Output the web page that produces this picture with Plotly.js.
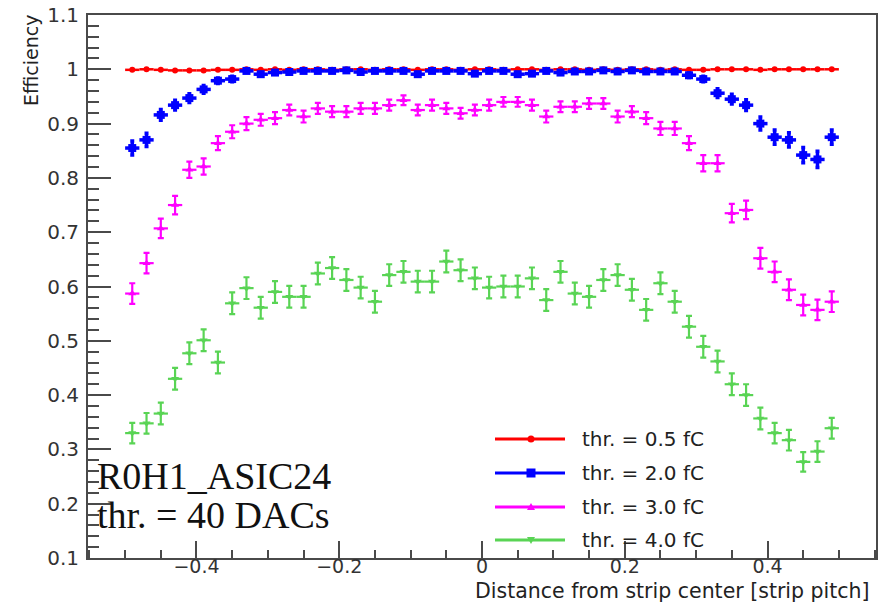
<!DOCTYPE html>
<html>
<head>
<meta charset="utf-8">
<script src="https://cdn.plot.ly/plotly-3.0.1.min.js"></script>
<style>
  html, body { margin: 0; padding: 0; background: #ffffff; }
  #chart { width: 887px; height: 605px; }
</style>
</head>
<body>
<div id="chart"></div>
<script>
// Bin centres of the strip-position histogram (50 bins of 0.02 pitch)
const xCenters = [
  -0.49, -0.47, -0.45, -0.43, -0.41, -0.39, -0.37, -0.35, -0.33, -0.31,
  -0.29, -0.27, -0.25, -0.23, -0.21, -0.19, -0.17, -0.15, -0.13, -0.11,
  -0.09, -0.07, -0.05, -0.03, -0.01,  0.01,  0.03,  0.05,  0.07,  0.09,
   0.11,  0.13,  0.15,  0.17,  0.19,  0.21,  0.23,  0.25,  0.27,  0.29,
   0.31,  0.33,  0.35,  0.37,  0.39,  0.41,  0.43,  0.45,  0.47,  0.49
];
const binHalfWidth = 0.01;

// Efficiency per threshold
const eff05 = [
  0.999, 1.000, 0.999, 0.998, 0.998, 0.998, 0.999, 0.999, 1.000, 0.999,
  1.000, 0.999, 1.000, 1.000, 0.999, 1.000, 1.000, 0.999, 1.000, 1.000,
  0.999, 1.000, 1.000, 0.999, 1.000, 1.000, 0.999, 1.000, 1.000, 0.999,
  1.000, 1.000, 0.999, 1.000, 0.999, 1.000, 1.000, 0.999, 1.000, 0.999,
  0.999, 1.000, 1.000, 1.000, 0.999, 1.000, 1.000, 1.000, 1.000, 1.000
];
const err05 = [
  0.001, 0.001, 0.001, 0.001, 0.001, 0.001, 0.001, 0.001, 0.001, 0.001,
  0.001, 0.001, 0.001, 0.001, 0.001, 0.001, 0.001, 0.001, 0.001, 0.001,
  0.001, 0.001, 0.001, 0.001, 0.001, 0.001, 0.001, 0.001, 0.001, 0.001,
  0.001, 0.001, 0.001, 0.001, 0.001, 0.001, 0.001, 0.001, 0.001, 0.001,
  0.001, 0.001, 0.001, 0.001, 0.001, 0.001, 0.001, 0.001, 0.001, 0.001
];

const eff20 = [
  0.855, 0.870, 0.916, 0.934, 0.947, 0.963, 0.979, 0.982, 0.997, 0.991,
  0.994, 0.995, 0.997, 0.997, 0.997, 0.998, 0.995, 0.997, 0.997, 0.997,
  0.991, 0.997, 0.997, 0.997, 0.992, 0.997, 0.997, 0.991, 0.992, 0.997,
  0.994, 0.996, 0.996, 0.998, 0.996, 0.998, 0.996, 0.996, 0.996, 0.989,
  0.982, 0.956, 0.945, 0.934, 0.900, 0.875, 0.870, 0.842, 0.834, 0.875
];
const err20 = [
  0.013, 0.012, 0.010, 0.009, 0.008, 0.007, 0.005, 0.005, 0.002, 0.003,
  0.003, 0.002, 0.002, 0.002, 0.002, 0.002, 0.002, 0.002, 0.002, 0.002,
  0.003, 0.002, 0.002, 0.002, 0.003, 0.002, 0.002, 0.003, 0.003, 0.002,
  0.003, 0.002, 0.002, 0.002, 0.002, 0.002, 0.002, 0.002, 0.002, 0.004,
  0.005, 0.008, 0.009, 0.010, 0.012, 0.013, 0.013, 0.014, 0.015, 0.013
];

const eff30 = [
  0.587, 0.643, 0.707, 0.750, 0.815, 0.821, 0.864, 0.885, 0.900, 0.907,
  0.910, 0.925, 0.913, 0.928, 0.922, 0.922, 0.928, 0.928, 0.934, 0.943,
  0.925, 0.934, 0.928, 0.919, 0.925, 0.934, 0.940, 0.940, 0.934, 0.913,
  0.931, 0.931, 0.937, 0.937, 0.913, 0.922, 0.910, 0.891, 0.891, 0.864,
  0.827, 0.827, 0.735, 0.741, 0.652, 0.627, 0.594, 0.566, 0.557, 0.572
];
const err30 = [
  0.019, 0.019, 0.018, 0.017, 0.015, 0.015, 0.013, 0.012, 0.012, 0.011,
  0.011, 0.010, 0.011, 0.010, 0.010, 0.010, 0.010, 0.010, 0.010, 0.009,
  0.010, 0.010, 0.010, 0.010, 0.010, 0.010, 0.009, 0.009, 0.010, 0.011,
  0.010, 0.010, 0.010, 0.010, 0.011, 0.010, 0.011, 0.012, 0.012, 0.013,
  0.015, 0.015, 0.017, 0.017, 0.019, 0.019, 0.019, 0.019, 0.019, 0.019
];

const eff40 = [
  0.330, 0.348, 0.366, 0.430, 0.477, 0.501, 0.460, 0.569, 0.597, 0.561,
  0.590, 0.581, 0.581, 0.624, 0.634, 0.612, 0.598, 0.572, 0.621, 0.627,
  0.609, 0.609, 0.646, 0.630, 0.615, 0.598, 0.600, 0.600, 0.615, 0.575,
  0.627, 0.587, 0.581, 0.612, 0.621, 0.594, 0.557, 0.606, 0.572, 0.526,
  0.489, 0.462, 0.420, 0.400, 0.357, 0.330, 0.317, 0.277, 0.296, 0.339
];
const err40 = [
  0.019, 0.019, 0.020, 0.020, 0.020, 0.020, 0.020, 0.020, 0.020, 0.020,
  0.020, 0.020, 0.020, 0.020, 0.020, 0.020, 0.020, 0.020, 0.020, 0.020,
  0.020, 0.020, 0.020, 0.020, 0.020, 0.020, 0.020, 0.020, 0.020, 0.020,
  0.020, 0.020, 0.020, 0.020, 0.020, 0.020, 0.020, 0.020, 0.020, 0.020,
  0.020, 0.020, 0.020, 0.020, 0.020, 0.019, 0.019, 0.018, 0.019, 0.019
];

const seriesNames = ['thr. = 0.5 fC', 'thr. = 2.0 fC', 'thr. = 3.0 fC', 'thr. = 4.0 fC'];
const yTickVals = [0.1, 0.2, 0.3, 0.4, 0.5, 0.6, 0.7, 0.8, 0.9, 1, 1.1];
const xTickVals = [-0.4, -0.2, 0, 0.2, 0.4];
const boardLabel = 'R0H1_ASIC24';
const dacLabel = 'thr. = 40 DACs';
const xTitle = 'Distance from strip center [strip pitch]';
const yTitle = 'Efficiency';

const styles = [
  { color: '#ff0000', symbol: 'circle',        size: 6, thick: 2.5, cap: 0 },
  { color: '#0000ff', symbol: 'square',        size: 8, thick: 3.5, cap: 2 },
  { color: '#ff00ff', symbol: 'triangle-up',   size: 7, thick: 2.2, cap: 3 },
  { color: '#59d454', symbol: 'triangle-down', size: 7, thick: 2.2, cap: 3 }
];
const effs = [eff05, eff20, eff30, eff40];
const errs = [err05, err20, err30, err40];

const traces = effs.map((eff, k) => ({
  type: 'scatter',
  mode: 'markers',
  name: seriesNames[k],
  x: xCenters,
  y: eff,
  marker: { color: styles[k].color, symbol: styles[k].symbol, size: styles[k].size, line: { width: 0 } },
  error_x: { type: 'constant', value: binHalfWidth, color: styles[k].color, thickness: styles[k].thick, width: 0 },
  error_y: { type: 'data', array: errs[k], color: styles[k].color, thickness: styles[k].thick, width: styles[k].cap },
  showlegend: false,
  hoverinfo: 'x+y'
}));

// Plot-area geometry helpers (paper fractions)
const L = 88, R = 876, T = 15, B = 558;
const px = v => (v - L) / (R - L);
const py = v => (B - v) / (B - T);

// Hand-drawn legend box in the lower right corner
const legendRows = [439, 473, 507, 540];
const legendLineX = [495, 565];
const legendMarkX = 531;
const legendTextX = 580;

const shapes = [];
const annotations = [];
legendRows.forEach((row, k) => {
  const st = styles[k];
  shapes.push({
    type: 'line', xref: 'paper', yref: 'paper',
    x0: px(legendLineX[0]), x1: px(legendLineX[1]), y0: py(row), y1: py(row),
    line: { color: st.color, width: 3 }
  });
  const half = k === 1 ? 4.5 : 3.5;
  const base = { xref: 'paper', yref: 'paper', xsizemode: 'pixel', ysizemode: 'pixel',
                 xanchor: px(legendMarkX), yanchor: py(row),
                 fillcolor: st.color, line: { width: 0 } };
  if (k === 0) shapes.push(Object.assign({ type: 'circle', x0: -half, x1: half, y0: -half, y1: half }, base));
  else if (k === 1) shapes.push(Object.assign({ type: 'rect', x0: -half, x1: half, y0: -half, y1: half }, base));
  else if (k === 2) shapes.push(Object.assign({ type: 'path', path: 'M-4,-3L4,-3L0,4Z' }, base));
  else shapes.push(Object.assign({ type: 'path', path: 'M-4,3L4,3L0,-4Z' }, base));
  annotations.push({
    xref: 'paper', yref: 'paper', x: px(legendTextX), y: py(row),
    xanchor: 'left', yanchor: 'middle', showarrow: false, text: seriesNames[k],
    font: { family: 'DejaVu Sans, sans-serif', size: 20, color: '#222222' }
  });
});

// Run label
annotations.push({
  xref: 'paper', yref: 'paper', x: px(95), y: py(476), xanchor: 'left', yanchor: 'middle',
  showarrow: false, text: boardLabel,
  font: { family: 'Liberation Serif, Times New Roman, serif', size: 38, color: '#111111' }
});
annotations.push({
  xref: 'paper', yref: 'paper', x: px(95), y: py(515), xanchor: 'left', yanchor: 'middle',
  showarrow: false, text: dacLabel,
  font: { family: 'Liberation Serif, Times New Roman, serif', size: 38, color: '#111111' }
});

// Axis titles (right / top aligned)
annotations.push({
  xref: 'paper', yref: 'paper', x: px(871), y: py(591), xanchor: 'right', yanchor: 'middle',
  showarrow: false, text: xTitle, borderpad: 0,
  font: { family: 'DejaVu Sans, sans-serif', size: 20.5, color: '#222222' }
});
annotations.push({
  xref: 'paper', yref: 'paper', x: px(31), y: py(60), xanchor: 'center', yanchor: 'middle',
  showarrow: false, text: yTitle, textangle: -90,
  font: { family: 'DejaVu Sans, sans-serif', size: 19, color: '#222222' }
});

const axisColor = '#4a4a4a';
const layout = {
  width: 887, height: 605,
  margin: { l: L, r: 887 - R, t: T, b: 605 - B, pad: 0 },
  paper_bgcolor: '#ffffff', plot_bgcolor: '#ffffff',
  showlegend: false,
  xaxis: {
    range: [-0.552, 0.552],
    tickmode: 'array', tickvals: xTickVals,
    ticks: 'inside', ticklen: 17, tickwidth: 2, tickcolor: axisColor,
    minor: { dtick: 0.05, tick0: 0, ticks: 'inside', ticklen: 8, tickwidth: 2, tickcolor: axisColor },
    showline: true, linecolor: axisColor, linewidth: 2, mirror: true,
    showgrid: false, zeroline: false,
    tickfont: { family: 'DejaVu Sans, sans-serif', size: 19, color: '#333333' },
    ticklabelstandoff: -10
  },
  yaxis: {
    range: [0.1, 1.1],
    tickmode: 'array', tickvals: yTickVals,
    ticks: 'inside', ticklen: 23, tickwidth: 2, tickcolor: axisColor,
    minor: { dtick: 0.02, tick0: 0, ticks: 'inside', ticklen: 11, tickwidth: 2, tickcolor: axisColor },
    showline: true, linecolor: axisColor, linewidth: 2, mirror: true,
    showgrid: false, zeroline: false,
    tickfont: { family: 'DejaVu Sans, sans-serif', size: 20, color: '#333333' },
    ticklabelstandoff: 3
  },
  shapes: shapes,
  annotations: annotations
};

Plotly.newPlot('chart', traces, layout, { staticPlot: true, displayModeBar: false });
</script>
</body>
</html>
